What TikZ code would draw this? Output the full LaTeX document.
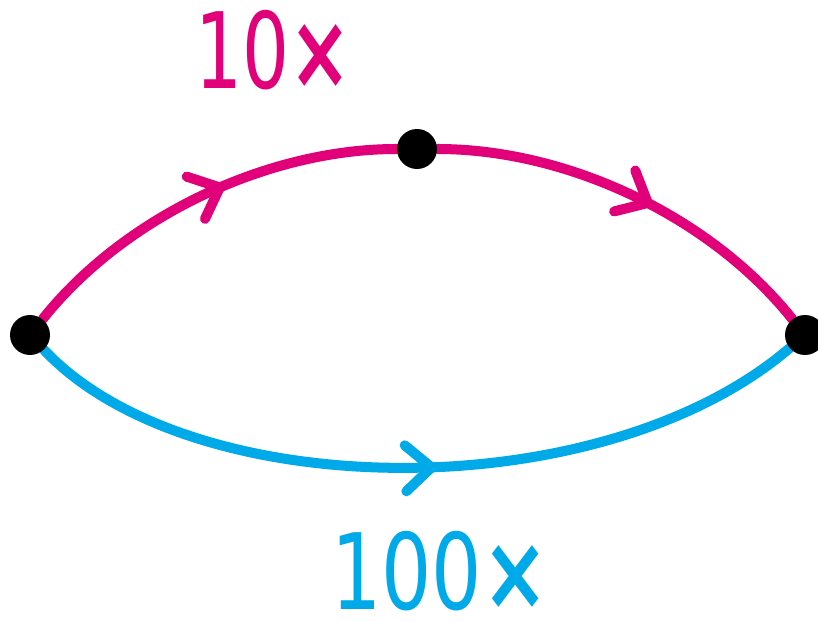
\documentclass[tikz,border=0pt]{standalone}
\usepackage{fontspec}
\newfontfamily\labfont{DejaVu Sans}
\usetikzlibrary{decorations.markings,backgrounds}
\definecolor{mag}{RGB}{226,0,122}
\definecolor{sky}{RGB}{0,169,232}
\begin{document}
\begin{tikzpicture}[x=0.02cm,y=-0.02cm,
  dot/.style={circle,fill=black,minimum size=0.8cm,inner sep=0pt},
  wire/.style={line width=5.7pt,line cap=round},
  chev/.style 2 args={decoration={markings,mark=at position #1 with {\draw[#2,line width=5.7pt,line cap=round,line join=round] (-0.52cm,0.46cm) -- (0,0) -- (-0.52cm,-0.46cm);}},postaction=decorate},
  lab/.style={font=\labfont\fontsize{60}{60}\selectfont,inner sep=0pt}]
\useasboundingbox (0,0) rectangle (818,621);
\node[dot] (a) at (30,335) {};
\node[dot] (b) at (417,149) {};
\node[dot] (c) at (805,335) {};
\begin{scope}[on background layer]
\draw[wire,mag,chev={0.55}{mag}] (a) .. controls (124,217) and (267,149) .. (b);
\draw[wire,mag,chev={0.54}{mag}] (b) .. controls (568,149) and (711,217) .. (c);
\draw[wire,sky,chev={0.52}{sky}] (a) .. controls (190,505) and (600,510) .. (c);
\end{scope}
\node[lab,text=mag] (t1) at (273,50) {\scalebox{0.7}[1]{10{\bfseries ×}}};
\node[lab,text=sky] (t2) at (440,571) {\scalebox{0.75}[1]{100{\bfseries ×}}};
\end{tikzpicture}
\end{document}
